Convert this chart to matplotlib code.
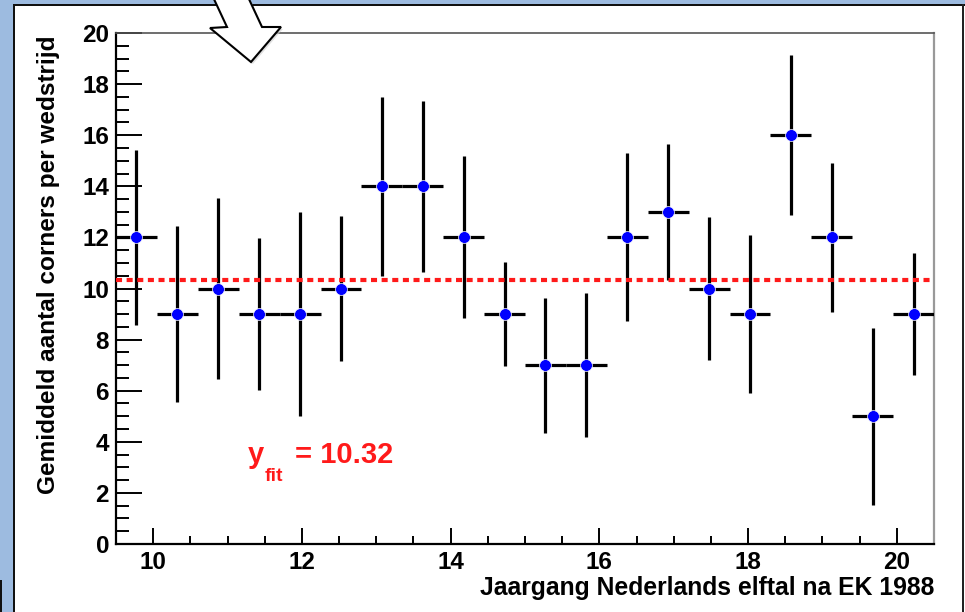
import matplotlib
matplotlib.use("Agg")
import matplotlib.pyplot as plt
from matplotlib.patches import Rectangle, Polygon
from matplotlib.ticker import MultipleLocator

# ---- data ----
x_centers = [9.775, 10.325, 10.875, 11.425, 11.975, 12.525, 13.075, 13.625,
             14.175, 14.725, 15.275, 15.825, 16.375, 16.925, 17.475, 18.025,
             18.575, 19.125, 19.675, 20.225]
x_halfwidth = 0.275
corners_avg = [12, 9, 10, 9, 9, 10, 14, 14, 12, 9, 7, 7, 12, 13, 10, 9, 16, 12, 5, 9]
corners_err = [3.44, 3.45, 3.55, 2.97, 4.00, 2.85, 3.51, 3.34, 3.17, 2.03,
               2.64, 2.82, 3.29, 2.65, 2.79, 3.10, 3.12, 2.91, 3.46, 2.39]
fit_value = 10.32
x_label = "Jaargang Nederlands elftal na EK 1988"
y_label = "Gemiddeld aantal corners per wedstrijd"
x_limits = (9.5, 20.5)
y_limits = (0, 20)

W, H = 965, 612
DPI = 100
FONT = "Liberation Sans"

fig = plt.figure(figsize=(W / DPI, H / DPI), dpi=DPI, facecolor="white")

def px_rect(x0, y0, x1, y1, color, z=0):
    fig.patches.append(Rectangle((x0 / W, 1 - y1 / H), (x1 - x0) / W, (y1 - y0) / H,
                                 transform=fig.transFigure, facecolor=color,
                                 edgecolor="none", zorder=z))

# slide frame
blue = "#9dbbe0"
px_rect(0, 0, 13, H, blue)
px_rect(0, 0, W, 4, blue)
px_rect(13, 4, 15, H, "#111111", 1)
px_rect(13, 4, W, 5.5, "#111111", 1)
px_rect(962, 4, 964, H, "#222222", 1)
px_rect(0, 580, 2, H, "#111111", 1)

ax = fig.add_axes([116 / W, (H - 544) / H, (934 - 116) / W, (544 - 33) / H])
ax.set_facecolor("white")

ax.errorbar(x_centers, corners_avg, xerr=x_halfwidth, yerr=corners_err,
            fmt="o", color="#0000ff", markersize=8.5, markeredgecolor="white",
            markeredgewidth=0.5, ecolor="black", elinewidth=2.3, capsize=0,
            zorder=3)

ax.axhline(fit_value, color="#ff1a1a", linewidth=3.0, linestyle=(0, (1.45, 1.1)),
           zorder=4)

ax.set_xlim(*x_limits)
ax.set_ylim(*y_limits)

ax.xaxis.set_major_locator(MultipleLocator(2))
ax.xaxis.set_minor_locator(MultipleLocator(0.5))
ax.yaxis.set_major_locator(MultipleLocator(2))
ax.yaxis.set_minor_locator(MultipleLocator(0.5))

ax.tick_params(axis="x", which="major", direction="in", length=11.5, width=1.4,
               pad=5, top=False, labelsize=17.5)
ax.tick_params(axis="x", which="minor", direction="in", length=5.5, width=1.4, top=False)
ax.tick_params(axis="y", which="major", direction="in", length=18.5, width=1.4,
               pad=5, right=False, labelsize=17.5)
ax.tick_params(axis="y", which="minor", direction="in", length=9.5, width=1.4, right=False)
for lab in ax.get_xticklabels() + ax.get_yticklabels():
    lab.set_fontfamily(FONT)
    lab.set_fontweight("bold")

ax.spines["left"].set_linewidth(1.6)
ax.spines["bottom"].set_linewidth(1.6)
ax.spines["top"].set_color("#555555")
ax.spines["top"].set_linewidth(1.2)
ax.spines["right"].set_color("#999999")
ax.spines["right"].set_linewidth(1.6)

ax.set_xlabel(x_label, fontsize=17.8, fontweight="bold", fontfamily=FONT, loc="right")
ax.xaxis.set_label_coords(1.0, -(576 - 544) / 511)
ax.set_ylabel(y_label, fontsize=17.6, fontweight="bold", fontfamily=FONT, loc="top")
ax.yaxis.set_label_coords(-(116 - 60) / 818, 0.996)

# fit annotation
ax.text(11.275, 3.17, "y", color="#ff1a1a", fontsize=21, fontweight="bold",
        fontfamily=FONT, ha="left", va="baseline")
ax.text(11.50, 2.45, "fit", color="#ff1a1a", fontsize=14, fontweight="bold",
        fontfamily=FONT, ha="left", va="baseline")
ax.text(11.906, 3.17, "= %.2f" % fit_value, color="#ff1a1a", fontsize=21,
        fontweight="bold", fontfamily=FONT, ha="left", va="baseline")

# decorative slide arrow
arrow_px = [(213, -3), (227, 27), (210, 28), (251, 62), (281, 27), (262, 27), (248, -3)]
shadow = Polygon([(x / W + 0.002, 1 - (y + 2) / H) for x, y in arrow_px],
                 closed=True, transform=fig.transFigure, facecolor="#cccccc",
                 edgecolor="none", zorder=9, alpha=0.6)
arrow = Polygon([(x / W, 1 - y / H) for x, y in arrow_px], closed=True,
                transform=fig.transFigure, facecolor="white", edgecolor="black",
                linewidth=1.5, zorder=10, joinstyle="miter")
fig.patches.append(shadow)
fig.patches.append(arrow)

fig.savefig("out.png", dpi=DPI, facecolor="white")
